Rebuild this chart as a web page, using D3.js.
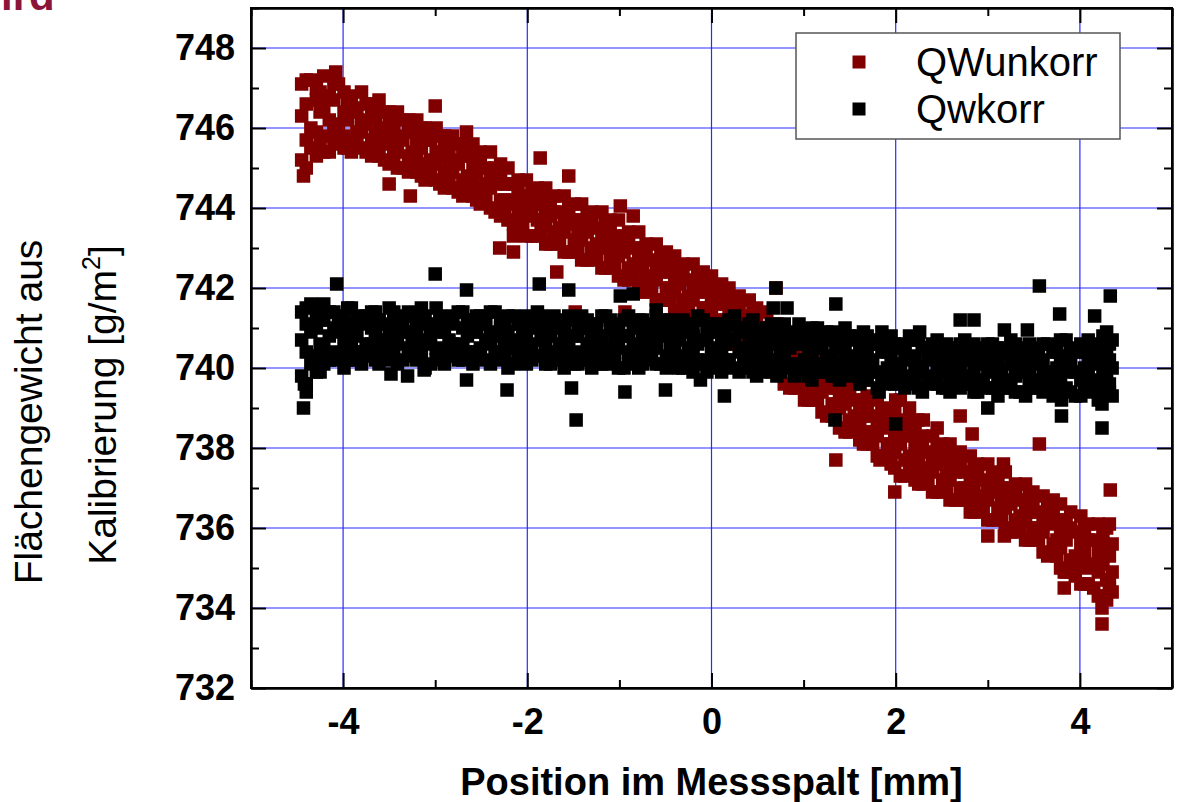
<!DOCTYPE html>
<html><head><meta charset="utf-8">
<script src="https://cdn.jsdelivr.net/npm/d3@7"></script>
<style>body{margin:0;background:#fff}svg{display:block;font-family:"Liberation Sans",Arial,sans-serif}</style>
</head><body><svg id="c" width="1177" height="802"></svg>
<script>
// ---------- data ----------
const seriesNames = ["QWunkorr", "Qwkorr"];
const xTicks = [-4, -2, 0, 2, 4];
const yTicks = [732, 734, 736, 738, 740, 742, 744, 746, 748];

const positionsA = [-4.45,-4.35,-4.25,-4.15,-4.05,-3.95,-3.85,-3.75,-3.65,-3.55,
-3.45,-3.35,-3.25,-3.15,-3.05,-2.95,-2.85,-2.75,-2.65,-2.55,
-2.45,-2.35,-2.25,-2.15,-2.05,-1.95,-1.85,-1.75,-1.65,-1.55,
-1.45,-1.35,-1.25,-1.15,-1.05,-0.95,-0.85,-0.75,-0.65,-0.55,
-0.45,-0.35,-0.25,-0.15,-0.05,0.05,0.15,0.25,0.35,0.45,
0.55,0.65,0.75,0.85,0.95,1.05,1.15,1.25,1.35,1.45,
1.55,1.65,1.75,1.85,1.95,2.05,2.15,2.25,2.35,2.45,
2.55,2.65,2.75,2.85,2.95,3.05,3.15,3.25,3.35,3.45,
3.55,3.65,3.75,3.85,3.95,4.05,4.15,4.25,4.35];
const positionsB = [-4.40,-4.29,-4.21,-4.10,-3.99,-3.91,-3.80,-3.69,-3.61,-3.50,
-3.41,-3.29,-3.20,-3.11,-2.99,-2.90,-2.81,-2.70,-2.59,-2.51,
-2.40,-2.29,-2.21,-2.10,-2.01,-1.89,-1.80,-1.71,-1.60,-1.49,
-1.41,-1.30,-1.19,-1.10,-1.01,-0.90,-0.79,-0.71,-0.60,-0.49,
-0.40,-0.31,-0.20,-0.09,0.00,0.11,0.19,0.30,0.41,0.49,
0.60,0.71,0.79,0.90,1.01,1.09,1.20,1.31,1.39,1.50,
1.61,1.69,1.80,1.91,1.99,2.10,2.21,2.29,2.40,2.51,
2.59,2.70,2.81,2.89,3.00,3.11,3.19,3.30,3.41,3.49,
3.60,3.71,3.79,3.90,4.01,4.09,4.20,4.29,4.32];

// QWunkorr (uncorrected) – passes at positionsA
const unkorrA1 = [747.1,747.2,746.9,746.8,747.1,746.6,746.5,746.6,746.3,746.4,
746.1,746.2,745.9,746.0,745.7,745.8,745.5,745.6,745.3,745.3,
745.0,745.0,744.6,744.6,744.3,744.4,744.1,744.2,743.9,744.0,
743.7,743.8,743.5,743.6,743.3,743.3,743.0,743.0,742.7,742.8,
742.4,742.5,742.2,742.3,741.9,742.0,741.6,741.7,741.3,741.4,
741.0,741.0,740.6,740.6,740.2,740.3,739.9,739.9,739.5,739.5,
739.2,739.2,738.8,738.9,738.6,738.6,738.3,738.2,737.9,738.0,
737.7,737.8,737.4,737.5,737.2,737.3,737.0,737.0,736.7,736.8,
736.4,736.6,736.2,736.2,735.9,736.0,735.7,735.8,735.6];
const unkorrA2 = [746.3,746.0,746.4,746.2,746.1,746.2,745.9,746.1,745.8,745.9,
745.6,745.7,745.4,745.5,745.2,745.3,745.0,745.1,744.8,744.9,
744.6,744.6,744.2,744.2,743.9,744.0,743.7,743.8,743.5,743.6,
743.3,743.4,743.1,743.2,742.9,742.9,742.6,742.6,742.3,742.4,
742.0,742.1,741.8,741.9,741.5,741.6,741.2,741.3,740.9,741.0,
740.6,740.6,740.2,740.2,739.8,739.9,739.5,739.5,739.1,739.1,
738.8,738.8,738.4,738.5,738.1,738.1,737.8,737.8,737.5,737.6,
737.3,737.4,737.0,737.1,736.8,736.9,736.6,736.6,736.3,736.4,
736.0,736.1,735.7,735.7,735.3,735.4,735.1,735.1,734.9];
const unkorrA3 = [745.2,745.5,745.6,745.4,745.6,745.5,745.6,745.4,745.5,745.2,
745.3,745.0,745.1,744.8,744.9,744.6,744.7,744.4,744.5,744.2,
744.3,743.9,743.9,743.6,743.6,743.3,743.4,743.1,743.2,742.9,
743.0,742.7,742.8,742.5,742.6,742.2,742.3,741.9,742.0,741.7,
741.7,741.4,741.5,741.2,741.2,740.9,740.9,740.6,740.6,740.3,
740.3,739.9,739.9,739.5,739.5,739.2,739.2,738.8,738.8,738.4,
738.5,738.1,738.1,737.8,737.6,737.3,737.4,737.1,737.2,736.9,
737.0,736.7,736.7,736.4,736.5,736.2,736.3,735.9,736.0,735.7,
735.7,735.3,735.3,734.9,734.8,734.6,734.5,734.3,734.4];
// QWunkorr – passes at positionsB
const unkorrB1 = [746.6,746.7,746.5,746.7,746.4,746.4,746.2,746.3,746.0,746.1,
745.8,745.9,745.6,745.7,745.4,745.5,745.2,745.3,745.0,745.1,
744.8,744.7,744.6,744.4,744.2,744.2,744.0,743.9,743.8,743.7,
743.5,743.6,743.3,743.4,743.1,743.1,742.8,742.9,742.6,742.6,
742.2,742.3,742.0,742.1,741.8,741.8,741.4,741.5,741.1,741.2,
740.8,740.8,740.4,740.4,740.0,740.1,739.7,739.7,739.3,739.3,
739.0,739.0,738.6,738.7,738.3,738.4,738.0,738.0,737.7,737.8,
737.5,737.6,737.2,737.3,737.0,737.1,736.8,736.8,736.5,736.6,
736.3,736.3,735.9,736.0,735.6,735.7,735.4,735.5,735.3];
const unkorrB2 = [745.7,745.9,745.8,745.9,745.8,745.7,745.9,745.7,745.6,745.6,
745.4,745.3,745.3,745.1,745.1,744.9,744.9,744.7,744.7,744.5,
744.5,744.2,744.1,743.9,743.8,743.7,743.6,743.4,743.4,743.2,
743.2,743.0,743.0,742.8,742.8,742.5,742.5,742.2,742.2,742.0,
741.9,741.7,741.7,741.5,741.4,741.2,741.1,740.9,740.8,740.6,
740.5,740.2,740.1,739.8,739.7,739.5,739.4,739.1,739.0,738.7,
738.7,738.4,738.3,738.1,737.9,737.7,737.6,737.4,737.4,737.2,
737.2,737.0,736.9,736.7,736.7,736.5,736.5,736.2,736.2,736.0,
735.9,735.6,735.5,735.2,735.1,735.0,734.9,734.7,734.7];
const unkorrB3 = [747.2,747.0,747.3,747.1,746.9,746.8,746.9,746.6,746.7,746.4,
746.4,746.2,746.2,746.0,746.0,745.8,745.8,745.6,745.6,745.4,
745.4,745.1,745.0,744.7,744.7,744.5,744.5,744.3,744.3,744.1,
744.1,743.9,743.9,743.7,743.7,743.4,743.4,743.1,743.1,742.9,
742.8,742.6,742.6,742.4,742.3,742.1,742.0,741.8,741.7,741.5,
741.4,741.1,741.0,740.7,740.6,740.4,740.3,740.0,739.9,739.6,
739.6,739.3,739.2,739.0,738.9,738.7,738.6,738.3,738.3,738.1,
738.1,737.9,737.8,737.6,737.6,737.4,737.4,737.1,737.1,736.9,
736.8,736.7,736.6,736.4,736.3,736.1,736.1,736.0,736.1];
const unkorrB4 = [745.0,745.3,745.4,745.7,745.5,745.4,745.5,745.3,745.3,745.1,
745.0,744.9,744.9,744.7,744.7,744.5,744.5,744.3,744.3,744.1,
744.0,743.8,743.7,743.5,743.3,743.3,743.1,743.1,742.9,742.9,
742.7,742.7,742.5,742.5,742.3,742.2,742.0,741.9,741.7,741.7,
741.4,741.4,741.2,741.2,740.9,740.9,740.6,740.6,740.3,740.3,
740.0,739.9,739.6,739.5,739.2,739.2,738.9,738.8,738.5,738.4,
738.2,738.1,737.8,737.8,737.5,737.3,737.2,737.1,736.9,736.9,
736.7,736.7,736.4,736.4,736.2,736.2,736.0,735.9,735.7,735.7,
735.4,735.4,735.0,734.9,734.6,734.6,734.3,734.2,734.5];
const unkorrOutX = [-4.08,-4.43,-3.50,-3.27,-3.00,-2.66,-2.15,-2.30,-2.15,-1.86,-1.55,-1.30,-0.99,-0.85,-1.68,-1.48,-0.94,
0.25,0.47,0.70,1.35,1.83,1.99,2.00,2.05,2.15,2.24,2.30,2.45,2.70,2.83,3.56,3.17,4.33,3.00,3.18,3.83,3.83,4.24,4.24];
const unkorrOutY = [747.4,744.8,744.6,744.3,746.55,745.9,743.3,743.0,742.9,745.25,744.8,743.85,744.05,743.8,742.4,741.4,741.4,
741.7,741.4,742.0,737.7,737.7,736.9,739.2,739.2,739.0,738.7,738.7,738.5,738.8,738.35,738.1,737.6,736.95,735.8,735.8,734.9,734.5,733.6,734.0];

// Qwkorr (corrected) – passes at positionsA
const korrA1 = [741.4,741.6,741.2,741.4,741.3,741.5,741.2,741.3,741.4,741.1,
741.4,741.2,741.3,741.5,741.1,741.3,741.2,741.4,741.2,741.3,
741.1,741.4,741.2,741.3,741.0,741.2,741.3,741.1,741.2,741.3,
741.0,741.2,741.1,741.3,741.0,741.2,741.1,741.2,741.0,741.1,
741.2,741.0,741.1,741.3,741.0,741.1,740.9,741.1,741.0,741.2,
740.9,741.1,741.0,740.9,741.1,740.8,741.0,740.9,740.8,741.0,
740.8,740.9,740.7,740.9,740.8,740.6,740.8,740.7,740.5,740.7,
740.6,740.5,740.7,740.6,740.4,740.6,740.5,740.7,740.4,740.6,
740.5,740.6,740.4,740.7,740.5,740.4,740.6,740.8,740.7];
const korrA2 = [740.7,740.9,740.6,740.8,740.9,740.7,740.8,740.6,740.9,740.7,
740.8,740.9,740.6,740.7,740.8,740.9,740.7,740.6,740.8,740.9,
740.7,740.8,740.6,740.7,740.8,740.6,740.7,740.8,740.6,740.7,
740.8,740.6,740.7,740.5,740.7,740.8,740.6,740.7,740.6,740.8,
740.6,740.7,740.5,740.6,740.7,740.5,740.6,740.7,740.5,740.6,
740.5,740.6,740.4,740.5,740.6,740.4,740.5,740.3,740.5,740.4,
740.3,740.4,740.2,740.4,740.3,740.1,740.2,740.0,740.2,740.1,
740.0,740.1,740.2,739.9,740.1,740.0,739.9,740.1,740.0,739.8,
740.1,739.9,740.0,740.1,739.9,740.0,740.1,739.9,740.0];
const korrA3 = [739.8,740.1,739.9,740.2,740.3,740.2,740.4,740.3,740.2,740.4,
740.3,740.2,740.4,740.3,740.1,740.3,740.4,740.2,740.3,740.4,
740.2,740.3,740.4,740.1,740.3,740.2,740.3,740.1,740.2,740.3,
740.1,740.2,740.3,740.1,740.2,740.0,740.2,740.1,740.3,740.1,
740.2,740.0,740.1,740.2,739.9,740.1,740.2,740.0,740.1,739.9,
740.1,740.0,739.9,740.1,740.0,739.8,740.0,739.9,739.8,740.0,
739.9,739.7,739.9,739.8,739.6,739.8,739.7,739.5,739.7,739.6,
739.5,739.7,739.6,739.4,739.6,739.5,739.7,739.5,739.4,739.6,
739.5,739.6,739.4,739.5,739.3,739.5,739.4,739.6,739.3];
// Qwkorr – passes at positionsB
const korrB1 = [741.1,741.0,741.2,741.0,741.1,740.9,741.1,741.0,741.2,741.0,
741.1,740.9,741.0,741.1,741.0,740.9,741.1,741.0,740.9,741.1,
740.9,741.0,740.9,741.1,740.9,741.0,740.8,741.0,740.9,740.8,
741.0,740.9,740.8,741.0,740.9,740.8,741.0,740.9,740.8,740.9,
740.8,740.9,740.8,740.7,740.9,740.8,740.7,740.9,740.8,740.7,
740.8,740.7,740.8,740.6,740.7,740.8,740.6,740.7,740.5,740.7,
740.6,740.5,740.6,740.4,740.5,740.4,740.3,740.5,740.4,740.3,
740.4,740.3,740.2,740.4,740.3,740.2,740.4,740.3,740.2,740.3,
740.2,740.4,740.3,740.2,740.4,740.3,740.2,740.4,740.2];
const korrB2 = [740.4,740.3,740.5,740.4,740.6,740.5,740.4,740.6,740.5,740.4,
740.6,740.5,740.4,740.6,740.5,740.4,740.6,740.5,740.4,740.5,
740.6,740.4,740.5,740.4,740.5,740.3,740.5,740.4,740.5,740.4,
740.3,740.5,740.4,740.3,740.5,740.4,740.3,740.4,740.5,740.3,
740.4,740.3,740.4,740.2,740.4,740.3,740.2,740.4,740.3,740.2,
740.3,740.2,740.3,740.1,740.2,740.3,740.1,740.2,740.1,740.2,
740.0,740.1,739.9,740.0,739.9,739.8,740.0,739.9,739.8,739.9,
739.8,739.9,739.8,739.7,739.9,739.8,739.7,739.8,739.9,739.7,
739.8,739.7,739.8,739.9,739.7,739.8,739.7,739.8,739.6];
const korrB3 = [741.5,741.3,741.6,741.4,741.2,741.5,741.3,741.4,741.2,741.5,
741.3,741.4,741.2,741.3,741.5,741.2,741.3,741.4,741.2,741.3,
741.4,741.2,741.3,741.1,741.3,741.4,741.2,741.3,741.1,741.2,
741.3,741.1,741.3,741.2,741.1,741.3,741.2,741.1,741.3,741.2,
741.1,741.2,741.0,741.2,741.1,741.0,741.2,741.0,741.1,740.9,
741.0,740.9,741.1,740.8,740.9,741.0,740.8,740.9,740.7,740.8,
740.7,740.8,740.6,740.7,740.6,740.5,740.7,740.5,740.6,740.4,
740.5,740.6,740.4,740.5,740.6,740.4,740.5,740.6,740.5,740.4,
740.6,740.5,740.7,740.4,740.6,740.7,740.5,740.9,740.6];
const korrB4 = [739.6,739.9,740.1,740.2,740.0,740.2,740.1,740.3,740.1,740.2,
740.1,740.3,740.2,740.0,740.2,740.1,740.3,740.2,740.1,740.3,
740.1,740.2,740.0,740.2,740.1,740.3,740.1,740.2,740.0,740.1,
740.2,740.0,740.1,740.2,740.0,740.1,740.0,740.2,740.1,740.0,
740.1,740.0,739.9,740.1,740.0,739.9,740.1,739.9,740.0,739.8,
739.9,739.8,740.0,739.8,739.9,739.7,739.9,739.8,739.7,739.8,
739.6,739.7,739.5,739.7,739.6,739.5,739.6,739.4,739.6,739.5,
739.4,739.5,739.6,739.4,739.5,739.3,739.5,739.4,739.3,739.5,
739.4,739.3,739.5,739.4,739.3,739.5,739.2,739.4,739.4];
const korrOutX = [-4.43,-4.40,-4.42,-4.07,-3.00,-2.66,-3.48,-3.30,-3.12,-2.66,-2.22,-1.52,-1.47,-0.94,-0.50,-0.12,
-1.87,-1.55,-0.99,-0.85,-0.60,0.70,0.82,0.67,1.35,0.25,0.14,1.82,1.34,2.00,3.56,4.33,3.78,4.16,2.70,2.85,3.18,3.43,2.26,
3.80,3.80,4.24,4.24,3.00];
const korrOutY = [739.0,739.4,739.6,742.1,742.35,741.95,739.85,739.8,739.95,739.7,739.45,739.5,738.7,739.4,739.45,739.7,
742.1,741.95,741.8,741.85,741.45,742.0,741.5,741.5,741.6,741.3,739.3,739.4,738.7,738.6,742.05,741.8,741.35,741.3,741.2,741.2,740.95,740.95,740.9,
739.2,738.8,739.1,738.5,739.0];

// ---------- chart ----------
const svg = d3.select("#c");
const L = 251, R = 1172, T = 8, B = 688;
const x = d3.scaleLinear().domain([-5, 5]).range([L, R]);
const y = d3.scaleLinear().domain([732, 749]).range([B, T]);
const colors = {QWunkorr: "#800000", Qwkorr: "#000000"};
const gridColor = "#2b2bff";
const ms = 13.5;

svg.append("defs").append("clipPath").attr("id", "clip")
  .append("rect").attr("x", L).attr("y", T).attr("width", R - L).attr("height", B - T);

// grid
const grid = svg.append("g");
grid.selectAll(".gx").data(xTicks).join("line")
  .attr("x1", d => x(d)).attr("x2", d => x(d)).attr("y1", T).attr("y2", B)
  .attr("stroke", gridColor).attr("stroke-width", 1.2);
grid.selectAll(".gy").data(yTicks.filter(v => v > 732)).join("line")
  .attr("x1", L).attr("x2", R).attr("y1", d => y(d)).attr("y2", d => y(d))
  .attr("stroke", gridColor).attr("stroke-width", 1.2);

function pts(xs, ys) { return ys.map((v, i) => ({x: xs[i], y: v})); }
const redPts = [].concat(
  pts(positionsB, unkorrB3), pts(positionsA, unkorrA1), pts(positionsB, unkorrB1), pts(positionsA, unkorrA2),
  pts(positionsB, unkorrB2), pts(positionsA, unkorrA3), pts(positionsB, unkorrB4), pts(unkorrOutX, unkorrOutY));
const blackPts = [].concat(
  pts(positionsB, korrB3), pts(positionsA, korrA1), pts(positionsB, korrB1), pts(positionsA, korrA2),
  pts(positionsB, korrB2), pts(positionsA, korrA3), pts(positionsB, korrB4), pts(korrOutX, korrOutY));

const plot = svg.append("g").attr("clip-path", "url(#clip)");
[[redPts, colors.QWunkorr], [blackPts, colors.Qwkorr]].forEach(([data, col]) => {
  plot.append("g").selectAll("rect").data(data).join("rect")
    .attr("x", d => x(d.x) - ms / 2).attr("y", d => y(d.y) - ms / 2)
    .attr("width", ms).attr("height", ms).attr("fill", col);
});

// axes
const majorX = xTicks, minorX = [-5, -3, -1, 1, 3, 5];
const majorY = yTicks, minorY = [733, 735, 737, 739, 741, 743, 745, 747, 749];
function styleAxis(g) {
  g.selectAll("path,line").attr("stroke", "#000").attr("stroke-width", 2);
  g.selectAll("text").attr("fill", "#000").attr("font-size", 36).attr("font-weight", "bold")
    .attr("font-family", '"Liberation Sans", Arial, sans-serif');
}
svg.append("g").attr("transform", `translate(0,${B})`)
  .call(d3.axisBottom(x).tickValues(majorX).tickSizeInner(-15).tickSizeOuter(0).tickPadding(20)
    .tickFormat(d => String(d))).call(styleAxis);
svg.append("g").attr("transform", `translate(0,${B})`)
  .call(d3.axisBottom(x).tickValues(minorX).tickSizeInner(-8).tickSizeOuter(0).tickFormat("")).call(styleAxis);
svg.append("g").attr("transform", `translate(0,${T})`)
  .call(d3.axisTop(x).tickValues(majorX).tickSizeInner(-15).tickSizeOuter(0).tickFormat("")).call(styleAxis);
svg.append("g").attr("transform", `translate(0,${T})`)
  .call(d3.axisTop(x).tickValues(minorX).tickSizeInner(-8).tickSizeOuter(0).tickFormat("")).call(styleAxis);
svg.append("g").attr("transform", `translate(${L},0)`)
  .call(d3.axisLeft(y).tickValues(majorY).tickSizeInner(-15).tickSizeOuter(0).tickPadding(16)
    .tickFormat(d => String(d))).call(styleAxis);
svg.append("g").attr("transform", `translate(${L},0)`)
  .call(d3.axisLeft(y).tickValues(minorY).tickSizeInner(-8).tickSizeOuter(0).tickFormat("")).call(styleAxis);
svg.append("g").attr("transform", `translate(${R},0)`)
  .call(d3.axisRight(y).tickValues(majorY).tickSizeInner(-15).tickSizeOuter(0).tickFormat("")).call(styleAxis);
svg.append("g").attr("transform", `translate(${R},0)`)
  .call(d3.axisRight(y).tickValues(minorY).tickSizeInner(-8).tickSizeOuter(0).tickFormat("")).call(styleAxis);
svg.append("rect").attr("x", L).attr("y", T).attr("width", R - L).attr("height", B - T)
  .attr("fill", "none").attr("stroke", "#000").attr("stroke-width", 2);

// axis titles
svg.append("text").attr("x", (L + R) / 2).attr("y", 795).attr("text-anchor", "middle")
  .attr("font-size", 38).attr("font-weight", "bold").text("Position im Messspalt [mm]");
svg.append("text").attr("transform", "translate(42,412) rotate(-90)").attr("text-anchor", "middle")
  .attr("font-size", 39).text("Flächengewicht aus");
const t2 = svg.append("text").attr("transform", "translate(116,405) rotate(-90)").attr("text-anchor", "middle")
  .attr("font-size", 39);
t2.append("tspan").text("Kalibrierung [g/m");
t2.append("tspan").attr("font-size", 25).attr("dy", -16).text("2");
t2.append("tspan").attr("dy", 16).text("]");

// partly visible heading at top-left (cut off by the picture edge in the original)
svg.append("text").attr("x", 1).attr("y", 10)
  .attr("font-size", 42).attr("font-weight", "bold").attr("fill", "#8a1538").text("ird");

// legend
const lg = svg.append("g");
lg.append("rect").attr("x", 796).attr("y", 33).attr("width", 324).attr("height", 106)
  .attr("fill", "#fff").attr("stroke", "#555").attr("stroke-width", 1.5);
seriesNames.forEach((name, i) => {
  const cy = 62 + i * 47;
  lg.append("rect").attr("x", 859 - 6.5).attr("y", cy - 6.5).attr("width", 13).attr("height", 13)
    .attr("fill", colors[name]);
  lg.append("text").attr("x", 916).attr("y", cy + 14).attr("font-size", 40).text(name);
});
</script></body></html>
